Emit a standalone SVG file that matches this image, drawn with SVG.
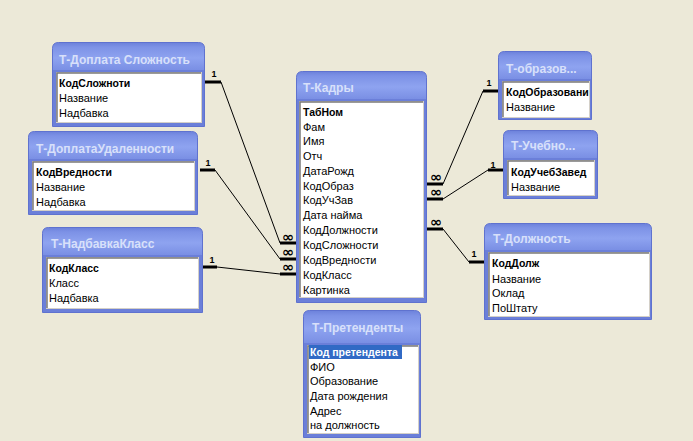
<svg xmlns="http://www.w3.org/2000/svg" width="693" height="441" viewBox="0 0 693 441">
<defs>
<linearGradient id="tg" x1="0" y1="0" x2="0" y2="1">
<stop offset="0" stop-color="#6E83DC"/>
<stop offset="0.15" stop-color="#7D92E6"/>
<stop offset="0.55" stop-color="#8EA3F0"/>
<stop offset="1" stop-color="#7A8FE4"/>
</linearGradient>
<style>
.frame{fill:#6B7FD9;stroke:#5F72CF;stroke-width:1}
.title{fill:url(#tg)}
.tt{font-family:"Liberation Sans",Arial,sans-serif;font-size:12px;font-weight:bold;fill:#D8E0FA}
.list{fill:#FFFFFF;stroke:#D4D0C8;stroke-width:1}
.inset{fill:none;stroke:#7A7A7A;stroke-width:1.5}
.f{font-family:"Liberation Sans",Arial,sans-serif;font-size:11px;fill:#000000}
.k{font-weight:bold;font-size:10.5px}
.sel{fill:#316AC5}
.w{fill:#FFFFFF}
.ln{fill:none;stroke:#000000;stroke-width:1}
.bar{fill:none;stroke:#000000;stroke-width:3}
.one{font-family:"Liberation Sans",Arial,sans-serif;font-size:9px;font-weight:bold;fill:#000000;text-anchor:middle}
.inf{font-family:"DejaVu Sans",sans-serif;font-size:14.5px;font-weight:bold;fill:#000000;text-anchor:middle}
</style>
<clipPath id="c6"><rect x="502" y="81" width="88" height="36"/></clipPath>
<clipPath id="c7"><rect x="507" y="160" width="89" height="36"/></clipPath>
</defs>
<rect x="0" y="0" width="693" height="441" fill="#ECE9D8"/>

<g id="connectors">
<path class="bar" d="M205 82H221M280 243H296"/>
<path class="ln" d="M221 82L280 243"/>
<text class="one" x="214" y="77">1</text>
<text class="inf" x="288" y="241.5">∞</text>

<path class="bar" d="M200 170H215M280 259H296"/>
<path class="ln" d="M215 170L280 259"/>
<text class="one" x="208" y="166">1</text>
<text class="inf" x="288" y="257">∞</text>

<path class="bar" d="M203 267H217M280 274H296"/>
<path class="ln" d="M217 267L280 274"/>
<text class="one" x="212" y="263">1</text>
<text class="inf" x="288" y="272">∞</text>

<path class="bar" d="M427 184H443M483 91H498"/>
<path class="ln" d="M443 184L483 91"/>
<text class="one" x="489" y="86">1</text>
<text class="inf" x="436" y="182">∞</text>

<path class="bar" d="M427 199H443M488 170H503"/>
<path class="ln" d="M443 199L488 170"/>
<text class="one" x="493" y="168">1</text>
<text class="inf" x="436" y="197">∞</text>

<path class="bar" d="M427 229H443M469 262H484"/>
<path class="ln" d="M443 229L469 262"/>
<text class="one" x="474" y="257">1</text>
<text class="inf" x="436" y="226.5">∞</text>
</g>

<g id="t-doplata-slozhnost">
<path class="frame" d="M52.5 48.5Q52.5 42.5 58.5 42.5H198.5Q204.5 42.5 204.5 48.5V126.5H52.5Z"/>
<path class="title" d="M53 48.5Q53 43 58.5 43H198.5Q204 43 204 48.5V70H53Z"/>
<text class="tt" x="59" y="64">Т-Доплата Сложность</text>
<rect class="list" x="56.5" y="72.5" width="145" height="50"/>
<path class="inset" d="M57 122V73H201"/>
<text class="f k" x="59" y="87">КодСложноти</text>
<text class="f" x="59" y="102">Название</text>
<text class="f" x="59" y="117">Надбавка</text>
</g>

<g id="t-doplata-udalennosti">
<path class="frame" d="M28.5 137.5Q28.5 131.5 34.5 131.5H191.5Q197.5 131.5 197.5 137.5V214.5H28.5Z"/>
<path class="title" d="M29 137.5Q29 132 34.5 132H191.5Q197 132 197 137.5V159H29Z"/>
<text class="tt" x="36" y="153">Т-ДоплатаУдаленности</text>
<rect class="list" x="32.5" y="161.5" width="162" height="49"/>
<path class="inset" d="M33 210V162H194"/>
<text class="f k" x="36" y="176">КодВредности</text>
<text class="f" x="36" y="191">Название</text>
<text class="f" x="36" y="206">Надбавка</text>
</g>

<g id="t-nadbavka-klass">
<path class="frame" d="M42.5 233.5Q42.5 227.5 48.5 227.5H196.5Q202.5 227.5 202.5 233.5V312.5H42.5Z"/>
<path class="title" d="M43 233.5Q43 228 48.5 228H196.5Q202 228 202 233.5V255H43Z"/>
<text class="tt" x="51" y="248">Т-НадбавкаКласс</text>
<rect class="list" x="46.5" y="257.5" width="152" height="51"/>
<path class="inset" d="M47 308V258H198"/>
<text class="f k" x="49" y="272">КодКласс</text>
<text class="f" x="49" y="287">Класс</text>
<text class="f" x="49" y="302">Надбавка</text>
</g>

<g id="t-kadry">
<path class="frame" d="M296.5 77.5Q296.5 71.5 302.5 71.5H420.5Q426.5 71.5 426.5 77.5V302.5H296.5Z"/>
<path class="title" d="M297 77.5Q297 72 302.5 72H420.5Q426 72 426 77.5V99H297Z"/>
<text class="tt" x="303" y="92">Т-Кадры</text>
<rect class="list" x="299.5" y="101.5" width="124" height="196"/>
<path class="inset" d="M300 297V102H423"/>
<text class="f k" x="303" y="116">ТабНом</text>
<text class="f" x="303" y="131">Фам</text>
<text class="f" x="303" y="145">Имя</text>
<text class="f" x="303" y="160">Отч</text>
<text class="f" x="303" y="175">ДатаРожд</text>
<text class="f" x="303" y="190">КодОбраз</text>
<text class="f" x="303" y="204">КодУчЗав</text>
<text class="f" x="303" y="219">Дата найма</text>
<text class="f" x="303" y="234">КодДолжности</text>
<text class="f" x="303" y="249">КодСложности</text>
<text class="f" x="303" y="264">КодВредности</text>
<text class="f" x="303" y="279">КодКласс</text>
<text class="f" x="303" y="294">Картинка</text>
</g>

<g id="t-pretendenty">
<path class="frame" d="M303.5 316.5Q303.5 310.5 309.5 310.5H414.5Q420.5 310.5 420.5 316.5V437.5H303.5Z"/>
<path class="title" d="M304 316.5Q304 311 309.5 311H414.5Q420 311 420 316.5V343H304Z"/>
<text class="tt" x="312" y="332">Т-Претенденты</text>
<rect class="list" x="307.5" y="345.5" width="111" height="88"/>
<path class="inset" d="M308 433V346H418"/>
<rect class="sel" x="309" y="345" width="93" height="14"/>
<text class="f k w" x="310" y="356">Код претендента</text>
<text class="f" x="310" y="371">ФИО</text>
<text class="f" x="310" y="385">Образование</text>
<text class="f" x="310" y="400">Дата рождения</text>
<text class="f" x="310" y="415">Адрес</text>
<text class="f" x="310" y="429">на должность</text>
</g>

<g id="t-obrazov">
<path class="frame" d="M498.5 57.5Q498.5 51.5 504.5 51.5H585.5Q591.5 51.5 591.5 57.5V119.5H498.5Z"/>
<path class="title" d="M499 57.5Q499 52 504.5 52H585.5Q591 52 591 57.5V79H499Z"/>
<text class="tt" x="506" y="73">Т-образов...</text>
<rect class="list" x="502.5" y="81.5" width="87" height="36"/>
<path class="inset" d="M503 117V82H589"/>
<g clip-path="url(#c6)">
<text class="f k" x="506" y="96">КодОбразовани</text>
</g>
<text class="f" x="506" y="111">Название</text>
</g>

<g id="t-uchebno">
<path class="frame" d="M503.5 136.5Q503.5 130.5 509.5 130.5H591.5Q597.5 130.5 597.5 136.5V198.5H503.5Z"/>
<path class="title" d="M504 136.5Q504 131 509.5 131H591.5Q597 131 597 136.5V158H504Z"/>
<text class="tt" x="511" y="150">Т-Учебно...</text>
<rect class="list" x="507.5" y="160.5" width="87" height="35"/>
<path class="inset" d="M508 195V161H594"/>
<g clip-path="url(#c7)">
<text class="f k" x="511" y="176">КодУчебЗавед</text>
</g>
<text class="f" x="511" y="191">Название</text>
</g>

<g id="t-dolzhnost">
<path class="frame" d="M484.5 229.5Q484.5 223.5 490.5 223.5H645.5Q651.5 223.5 651.5 229.5V319.5H484.5Z"/>
<path class="title" d="M485 229.5Q485 224 490.5 224H645.5Q651 224 651 229.5V250H485Z"/>
<text class="tt" x="493" y="243">Т-Должность</text>
<rect class="list" x="488.5" y="252.5" width="161" height="64"/>
<path class="inset" d="M489 316V253H649"/>
<text class="f k" x="492" y="267">КодДолж</text>
<text class="f" x="492" y="283">Название</text>
<text class="f" x="492" y="297">Оклад</text>
<text class="f" x="492" y="312">ПоШтату</text>
</g>
</svg>
